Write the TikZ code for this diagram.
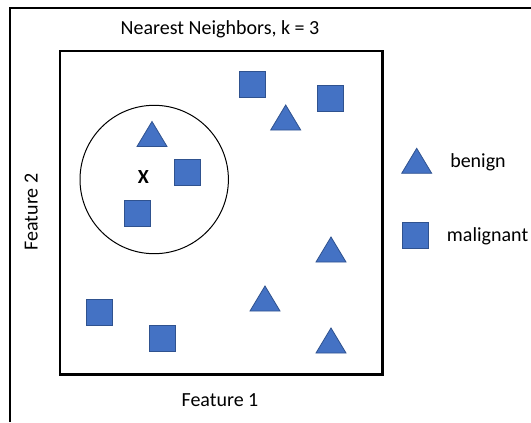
\documentclass[tikz,border=0pt]{standalone}
\usepackage{fontspec}
\setmainfont{Carlito}
\definecolor{markfill}{HTML}{4472C4}
\definecolor{markline}{HTML}{2F528F}
\tikzset{
  frameline/.style={line width=2pt, line join=miter},
  markstyle/.style={fill=markfill, draw=markline, line width=0.6pt},
  lbl/.style={inner sep=0pt, font=\fontsize{15}{18}\selectfont},
  benigntri/.pic={\path[markstyle] (-15,12.5) -- (15,12.5) -- (0,-12.5) -- cycle;},
  malignsq/.pic={\path[markstyle] (-13,-13) rectangle (13,13);}
}
\begin{document}
\begin{tikzpicture}[x=0.75pt,y=-0.75pt]
\useasboundingbox (0,0) rectangle (531,422);
% outer frame (open to the right and bottom)
\draw[frameline] (10,422) -- (10,8) -- (531,8);
% plot area
\draw[frameline] (60,51) rectangle (382.5,374.5);
% neighbourhood of the query point
\draw[line width=0.75pt] (154.2,179.5) circle[radius=55.65pt];
\node[lbl, font=\fontsize{15}{18}\selectfont\bfseries] (query) at (143.5,177.5) {X};
% benign samples
\pic at (152,134) {benigntri};
\pic at (285.7,117.5) {benigntri};
\pic at (331,249.5) {benigntri};
\pic at (265,298.5) {benigntri};
\pic at (331,340.5) {benigntri};
% malignant samples
\pic at (187.2,172.8) {malignsq};
\pic at (137.2,213) {malignsq};
\pic at (252.8,84.7) {malignsq};
\pic at (330.8,98.8) {malignsq};
\pic at (99.7,312.3) {malignsq};
\pic at (162.2,338.7) {malignsq};
% legend
\pic at (416.7,160.8) {benigntri};
\pic at (415.5,235.8) {malignsq};
\node[lbl, anchor=base west] (benign) at (450,167) {benign};
\node[lbl, anchor=base west] (malignant) at (446.7,241) {malignant};
% titles
\node[lbl, anchor=base] (title) at (220,34) {Nearest Neighbors, k = 3};
\node[lbl, anchor=base] (xlabel) at (220,406) {Feature 1};
\node[lbl, anchor=base, rotate=90] (ylabel) at (37.5,212) {Feature 2};
\end{tikzpicture}
\end{document}
